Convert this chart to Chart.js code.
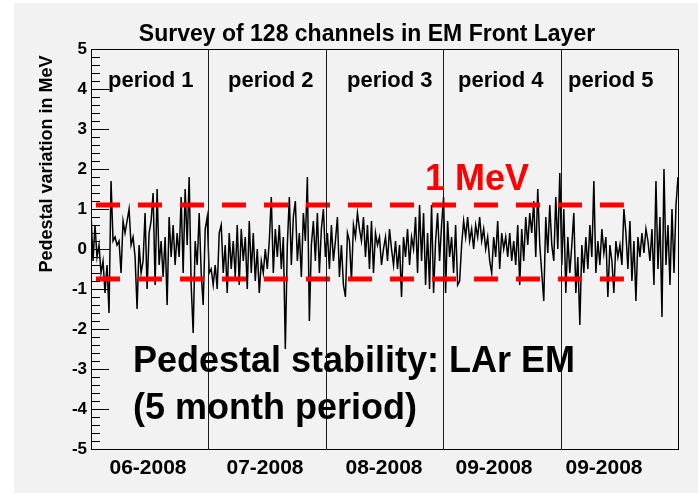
<!DOCTYPE html>
<html>
<head>
<meta charset="utf-8">
<script src="https://cdn.jsdelivr.net/npm/chart.js@4"></script>
<style>
  html, body { margin: 0; padding: 0; background: #fff; }
</style>
</head>
<body>
<canvas id="grafico" width="698" height="494"></canvas>
<script>
// Dados
const periodos = ['period 1', 'period 2', 'period 3', 'period 4', 'period 5'];
const meses = ['06-2008', '07-2008', '08-2008', '09-2008', '09-2008'];
const titulo = 'Survey of 128 channels in EM Front Layer';
const tituloY = 'Pedestal variation in MeV';
const limiteSup = 1.1;
const limiteInf = -0.75;
const yMin = -5;
const yMax = 5;

// variação do pedestal (MeV), amostras da esquerda para a direita
const pedestal = [
  0.9, -0.3, 0.6, -0.2, 0.1, -0.6, -0.3, -1.1, -0.4, -1.6,
  1.7, 0.2, 0.3, 0.1, 0.2, -0.6, 0.7, 0.4, 0.7, 1.0,
  0.1, 0.3, -0.2, -1.5, 0.1, -0.6, -0.3, 0.9, -1.0, 0.4,
  0.7, 1.4, -0.9, 1.5, -0.4, 0.2, -0.7, 0.3, -1.4, 0.8,
  -0.2, 0.6, -0.4, 0.4, -0.2, 1.3, -0.6, 1.5, 0.1, 1.8,
  -0.9, -2.1, 0.2, -0.4, 0.9, -0.6, -1.4, 0.5, 0.8, -0.6,
  -0.5, -0.9, -0.4, -1.0, 0.4, 0.6, -0.6, 0.1, -1.1, 0.4,
  -0.5, 0.2, -0.7,
  0.6, -0.9, 0.5, -0.3, 0.3, -1.0, 0.7, -0.6, 0.4, -0.8,
  0.0, -1.1, -0.3, -0.6, 0.0, -0.5, 0.2, 1.3, -0.6, 0.5,
  -0.2, 0.6, -0.5, 0.3, -2.5, 0.1, 1.3, -0.4, 0.8, 1.2,
  -0.3, 0.4, -0.7, 0.9, 0.2, 1.8, -1.8, 0.1, 0.7, -0.3,
  0.9, -0.6, 0.5, 1.0, -0.2, 0.4, -0.5, 0.6, -0.3, 0.2,
  0.8, -0.7, 0.1, -0.9, -1.2, 0.4, 0.2, -0.8, 0.6, 0.3,
  0.9, 0.5, 0.2, 0.8, -0.2, 0.6, -0.5, 0.7, -0.6, 0.4,
  0.1, 0.3, -0.4, 0.0,
  0.3, -0.3, 0.5, 0.0, -0.4, 0.2, -0.5, 0.1, -1.2, 0.3,
  -0.2, 0.5, -0.4, 0.3, 0.0, 0.8, -0.6, 1.1, -0.3, 0.9,
  -0.9, 0.4, -1.0, 1.1, -1.1, 0.2, 0.9, -0.3, 0.6, 1.3,
  -1.1, 0.7, -0.2, 0.3, -0.6, 0.6, -0.9, -0.8, 0.1, 0.7,
  0.3, 0.8, 0.2, 0.5, 0.0, 0.6, 0.3, 0.8, 0.2, 0.5,
  0.0, 0.3, -0.3, -0.6, 0.3, -0.2, 0.7, -0.5, 0.4, 0.0,
  0.3, -0.2, 0.4, -0.3, 0.2, -0.4, 0.6, -0.9, 0.5, -0.3,
  0.8, 0.1, 0.9,
  0.4, 1.2, -0.2, 1.5, 0.1, -0.6, -1.3, 0.8, -0.1, 1.1,
  0.1, -0.3, 1.3, 0.0, 1.9, -0.4, 1.0, -1.1, 0.3, -0.6,
  0.1, 0.9, -1.1, -0.2, -1.9, 0.1, -0.6, 0.3, -0.5, 0.6,
  -0.2, 1.7, -0.6, 0.2, -0.4, 0.5, -0.1, 0.3, -1.2, 0.1,
  -0.3, -1.1, 0.2, -0.2, 0.1, -0.4, 1.0, 0.4, -0.5, 0.7,
  -0.8, 0.2, -1.3, 0.3, -0.2, 0.4, -0.1, 0.5, 0.2, -0.3,
  0.5, -0.9, 1.7, -0.5, 0.8, -1.7, 2.0, -0.4, 0.6, -0.9,
  1.0, -0.6, 1.1, 1.8
];

const N = pedestal.length;
// faixa das linhas tracejadas (em índice de amostra)
const faixaIni = 2.5;
const faixaFim = 266;

const fonte = '"Liberation Sans", Arial, Helvetica, sans-serif';

// Plugin estilo ROOT: fundo, moldura, ticks internos, separadores e textos
const rootStyle = {
  id: 'rootStyle',
  beforeDraw(chart) {
    const ctx = chart.ctx;
    ctx.save();
    ctx.fillStyle = '#ffffff';
    ctx.fillRect(0, 0, chart.width, chart.height);
    ctx.fillStyle = '#f2f2f2';
    ctx.fillRect(14, 3, chart.width - 14, chart.height - 4);
    ctx.restore();
  },
  afterDraw(chart) {
    const ctx = chart.ctx;
    const a = chart.chartArea;
    const xs = chart.scales.x;
    const ys = chart.scales.y;
    ctx.save();

    // separadores de período
    ctx.strokeStyle = '#1a1a1a';
    ctx.lineWidth = 1;
    for (let k = 1; k < periodos.length; k++) {
      const px = Math.round(xs.getPixelForValue((N - 1) * k / periodos.length)) + 0.5;
      ctx.beginPath();
      ctx.moveTo(px, a.top);
      ctx.lineTo(px, a.bottom);
      ctx.stroke();
    }

    // ticks do eixo y (para dentro)
    ctx.strokeStyle = '#000';
    for (let k = yMin * 5; k <= yMax * 5; k++) {
      const py = Math.round(ys.getPixelForValue(k / 5)) + 0.5;
      const len = (k % 5 === 0) ? 18 : 9;
      ctx.beginPath();
      ctx.moveTo(a.left, py);
      ctx.lineTo(a.left + len, py);
      ctx.stroke();
    }

    // moldura
    ctx.strokeRect(Math.round(a.left) + 0.5, Math.round(a.top) + 0.5,
      Math.round(a.right - a.left), Math.round(a.bottom - a.top));

    ctx.fillStyle = '#000';
    ctx.textBaseline = 'alphabetic';

    // título
    ctx.font = 'bold 23px ' + fonte;
    ctx.textAlign = 'center';
    ctx.fillText(titulo, 367, 41);

    // rótulos dos períodos
    const periodoX = [108, 228, 347, 458, 568];
    ctx.font = 'bold 22px ' + fonte;
    ctx.textAlign = 'left';
    periodos.forEach((p, i) => ctx.fillText(p, periodoX[i], 87));

    // rótulos dos meses
    const mesX = [148, 265, 384, 494, 604];
    ctx.font = 'bold 21px ' + fonte;
    ctx.textAlign = 'center';
    meses.forEach((m, i) => ctx.fillText(m, mesX[i], 474));

    // título do eixo y
    ctx.save();
    ctx.translate(52, 164);
    ctx.rotate(-Math.PI / 2);
    ctx.font = 'bold 18px ' + fonte;
    ctx.textAlign = 'center';
    ctx.fillText(tituloY, 0, 0);
    ctx.restore();

    // anotações
    ctx.textAlign = 'left';
    ctx.fillStyle = '#ff0000';
    ctx.font = 'bold 36px ' + fonte;
    ctx.fillText('1 MeV', 425, 190);
    ctx.fillStyle = '#000';
    ctx.fillText('Pedestal stability: LAr EM', 133, 372);
    ctx.fillText('(5 month period)', 133, 419);

    ctx.restore();
  }
};

const ctx = document.getElementById('grafico').getContext('2d');
new Chart(ctx, {
  type: 'line',
  data: {
    datasets: [
      {
        label: 'limite superior',
        data: [{ x: faixaIni, y: limiteSup }, { x: faixaFim, y: limiteSup }],
        borderColor: '#ff0000',
        borderWidth: 5,
        borderDash: [24, 18],
        pointRadius: 0,
        order: 0
      },
      {
        label: 'limite inferior',
        data: [{ x: faixaIni, y: limiteInf }, { x: faixaFim, y: limiteInf }],
        borderColor: '#ff0000',
        borderWidth: 5,
        borderDash: [24, 18],
        pointRadius: 0,
        order: 0
      },
      {
        label: 'pedestal',
        data: pedestal.map((v, i) => ({ x: i, y: v })),
        borderColor: '#000',
        borderWidth: 1.5,
        pointRadius: 0,
        tension: 0,
        order: 1
      }
    ]
  },
  options: {
    responsive: false,
    animation: false,
    layout: { padding: { left: 0, right: 20, top: 49, bottom: 0 } },
    plugins: {
      legend: { display: false },
      tooltip: { enabled: false },
      title: { display: false }
    },
    scales: {
      x: {
        type: 'linear',
        min: 0,
        max: N - 1,
        grid: { display: false, drawTicks: false },
        border: { display: false },
        ticks: { display: false },
        afterFit: s => { s.height = 45; }
      },
      y: {
        min: yMin,
        max: yMax,
        grid: { display: false, drawTicks: false },
        border: { display: false },
        ticks: {
          stepSize: 1,
          padding: 4,
          color: '#000',
          font: { family: fonte, size: 17, weight: 'bold' }
        },
        afterFit: s => { s.width = 91; }
      }
    }
  },
  plugins: [rootStyle]
});
</script>
</body>
</html>
